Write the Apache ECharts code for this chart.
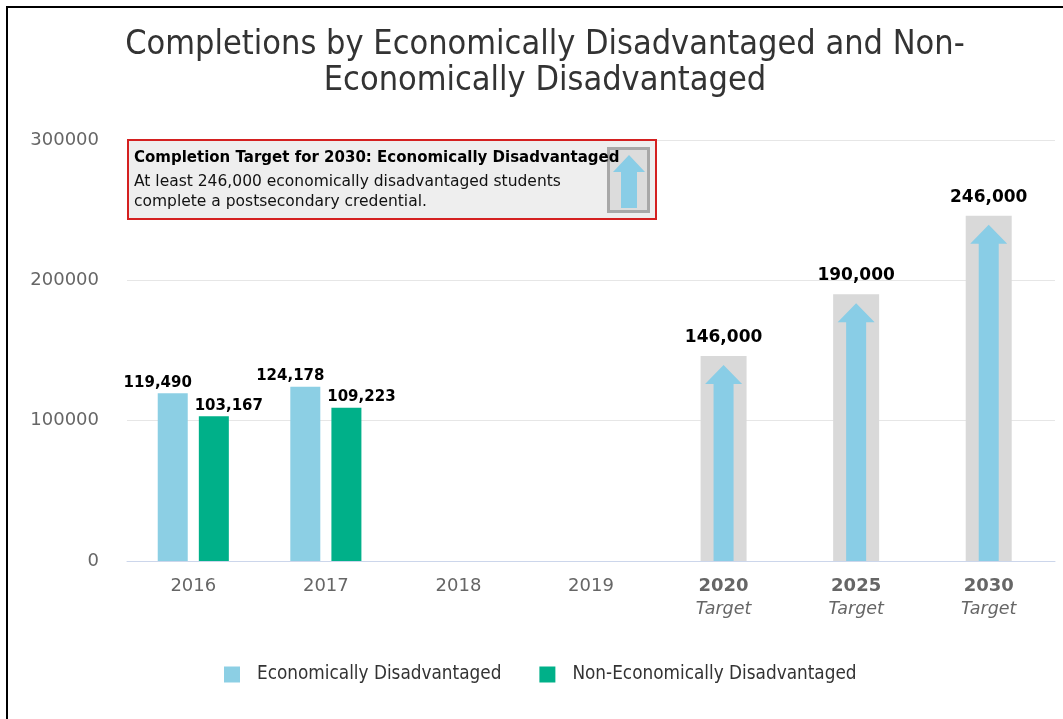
<!DOCTYPE html>
<html><head><meta charset="utf-8">
<script src="https://cdn.jsdelivr.net/npm/echarts@6/dist/echarts.min.js"></script>
<style>html,body{margin:0;padding:0;background:#fff}#c{width:1063px;height:719px}</style>
</head><body><div id="c"></div><script>
const categories = ['2016', '2017', '2018', '2019', '2020', '2025', '2030'];
const subLabels = ['', '', '', '', 'Target', 'Target', 'Target'];
const econDis = [119490, 124178, null, null, null, null, null];
const nonEconDis = [103167, 109223, null, null, null, null, null];
const targets = [null, null, null, null, 146000, 190000, 246000];
const yTicks = [0, 100000, 200000, 300000];
const seriesNames = ['Economically Disadvantaged', 'Non-Economically Disadvantaged'];
const titleText = 'Completions by Economically Disadvantaged and Non-\nEconomically Disadvantaged';
const noteTitle = 'Completion Target for 2030: Economically Disadvantaged';
const noteBody = 'At least 246,000 economically disadvantaged students\ncomplete a postsecondary credential.';

const BLUE = '#8ccfe4', GREEN = '#00b089', GREY = '#d9d9d9', ARROW = '#89cde6';
const COND = '"DejaVu Sans Condensed", "Liberation Sans Narrow", "DejaVu Sans", sans-serif';
const SANS = '"DejaVu Sans", Verdana, sans-serif';
const fmt = v => (v == null ? '' : Number(v).toLocaleString('en-US'));

const arrowData = [];
targets.forEach((v, i) => { if (v != null) arrowData.push([i, v]); });

const chart = echarts.init(document.getElementById('c'), null, { renderer: 'canvas' });
chart.setOption({
  animation: false,
  backgroundColor: '#fff',
  grid: { left: 127, right: 8, top: 140, bottom: 158, containLabel: false },
  legend: {
    data: seriesNames,
    left: 224, top: 665, padding: 0,
    itemWidth: 16, itemHeight: 16, itemGap: 38,
    icon: 'rect',
    textStyle: { fontFamily: COND, fontSize: 18.8, color: '#333', padding: [0, 0, 0, 12] }
  },
  xAxis: [{
    type: 'category', data: categories,
    axisLine: { lineStyle: { color: '#ccd6eb', width: 1 } },
    axisTick: { alignWithLabel: true, length: 10, lineStyle: { color: '#ccd6eb' } },
    axisLabel: {
      margin: 14, interval: 0,
      formatter: (v, i) => subLabels[i] ? '{c|' + v + '}\n{b|' + subLabels[i] + '}' : '{a|' + v + '}',
      rich: {
        a: { fontFamily: SANS, fontSize: 18, color: '#666', lineHeight: 23, fontWeight: 'normal' },
        c: { fontFamily: SANS, fontSize: 18, color: '#666', lineHeight: 23, fontWeight: 'bold' },
        b: { fontFamily: SANS, fontSize: 17.5, color: '#666', lineHeight: 23, fontStyle: 'italic' }
      }
    }
  }, {
    type: 'category', data: categories, show: false
  }],
  yAxis: {
    type: 'value', min: yTicks[0], max: yTicks[yTicks.length - 1], interval: yTicks[1] - yTicks[0],
    axisLine: { show: false }, axisTick: { show: false },
    axisLabel: { margin: 28, fontFamily: SANS, fontSize: 18, color: '#666', formatter: v => String(v) },
    splitLine: { lineStyle: { color: '#e6e6e6' } }
  },
  series: [{
    name: seriesNames[0], type: 'bar', xAxisIndex: 0, data: econDis,
    barWidth: 30, barGap: '37%', itemStyle: { color: BLUE },
    label: { show: true, position: 'top', distance: 3, offset: [-15, 0], formatter: p => fmt(p.value),
      fontFamily: SANS, fontWeight: 'bold', fontSize: 15, color: '#000' }
  }, {
    name: seriesNames[1], type: 'bar', xAxisIndex: 0, data: nonEconDis,
    barWidth: 30, itemStyle: { color: GREEN },
    label: { show: true, position: 'top', distance: 3, offset: [15, 0], formatter: p => fmt(p.value),
      fontFamily: SANS, fontWeight: 'bold', fontSize: 15, color: '#000' }
  }, {
    name: 'Target', type: 'bar', xAxisIndex: 1, data: targets,
    barWidth: 46, itemStyle: { color: GREY }, z: 1,
    label: { show: true, position: 'top', distance: 10, formatter: p => fmt(p.value),
      fontFamily: SANS, fontWeight: 'bold', fontSize: 17, color: '#000' }
  }, {
    name: 'Target arrow', type: 'custom', xAxisIndex: 0, data: arrowData, z: 3,
    renderItem: function (params, api) {
      const top = api.coord([api.value(0), api.value(1)]);
      const base = api.coord([api.value(0), 0]);
      const cx = top[0], tip = top[1] + 9, head = tip + 19, hw = 18.5, sw = 10;
      return { type: 'polygon', shape: { points: [[cx, tip], [cx + hw, head], [cx + sw, head], [cx + sw, base[1]], [cx - sw, base[1]], [cx - sw, head], [cx - hw, head]] },
        style: { fill: ARROW } };
    }
  }],
  graphic: [
    { type: 'line', shape: { x1: 7, y1: 6, x2: 7, y2: 719 }, style: { stroke: '#000', lineWidth: 2 } },
    { type: 'line', shape: { x1: 6, y1: 7, x2: 1063, y2: 7 }, style: { stroke: '#000', lineWidth: 2 } },
    { type: 'text', x: 545, y: 27, style: { text: titleText, fill: '#333', font: '34px ' + COND, textAlign: 'center', textVerticalAlign: 'top', lineHeight: 36 } },
    { type: 'rect', shape: { x: 128, y: 140, width: 528, height: 79 }, style: { fill: '#eeeeee', stroke: '#d42020', lineWidth: 2 }, z: 10 },
    { type: 'rect', shape: { x: 608.5, y: 148.5, width: 40, height: 63 }, style: { fill: '#dcdcdc', stroke: '#a8a8a8', lineWidth: 3 }, z: 11 },
    { type: 'polygon', shape: { points: [[629, 155], [645, 172], [637, 172], [637, 208], [621, 208], [621, 172], [613, 172]] }, style: { fill: ARROW }, z: 12 },
    { type: 'text', x: 134, y: 151, style: { text: noteTitle, fill: '#000', font: 'bold 15px ' + SANS, textVerticalAlign: 'top' }, z: 13 },
    { type: 'text', x: 134, y: 172, style: { text: noteBody, fill: '#111', font: '15.5px ' + SANS, textVerticalAlign: 'top', lineHeight: 20 }, z: 13 }
  ]
});
</script></body></html>
